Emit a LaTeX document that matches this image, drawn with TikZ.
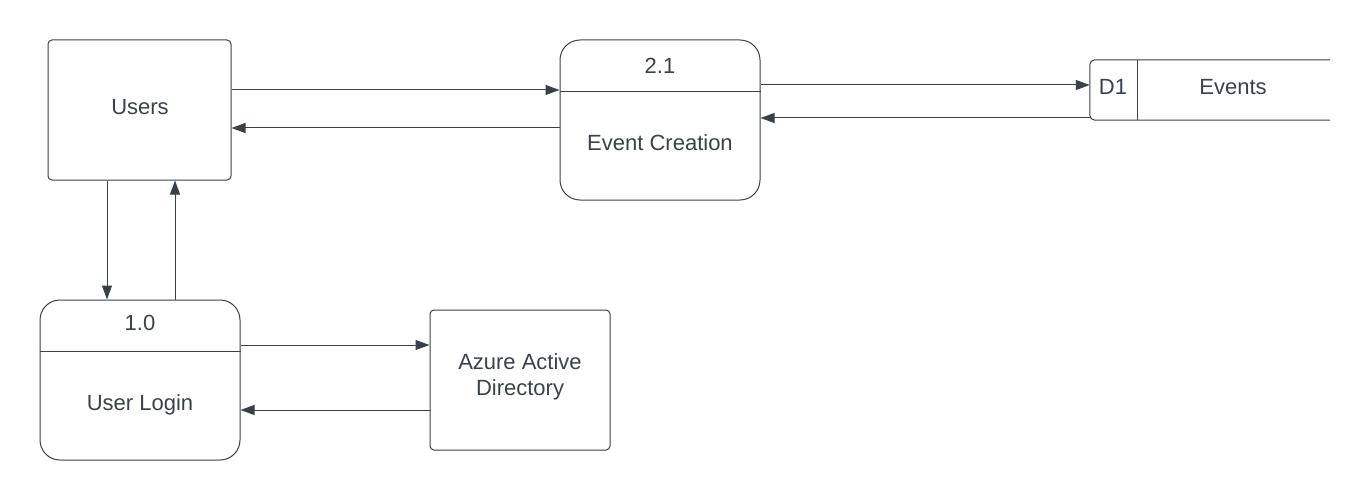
\documentclass[tikz,border=0pt]{standalone}
\usepackage{fontspec}
\setmainfont{Liberation Sans}
\usetikzlibrary{arrows.meta}
\definecolor{ink}{HTML}{3A414A}
\tikzset{
  every node/.style={text=ink, font=\fontsize{22}{26}\selectfont},
  entity/.style={draw=ink, line width=1pt, rounded corners=4pt, inner sep=0pt},
  process/.style={draw=ink, line width=1pt, rounded corners=20pt, inner sep=0pt,
    minimum width=200pt, minimum height=160pt},
  flow/.style={draw=ink, line width=1pt, -{Triangle[length=14pt, width=10pt]}}
}
\begin{document}
\begin{tikzpicture}[x=1pt, y=-1pt]
  \useasboundingbox (0,0) rectangle (1370,500);
  \draw
    (139.5,110) node[entity, minimum width=183pt, minimum height=140pt] (users){}
    (660,120) node[process] (ec){}
    (140,380) node[process] (login){}
    (520,380) node[entity, minimum width=180pt, minimum height=140pt] (aad){}
    (1210,90) node[minimum width=240pt, minimum height=60pt, inner sep=0pt] (store){};
  \node at (140,107) {Users};
  \node at (660,66) {2.1};
  \node at (660,143) {Event Creation};
  \node at (140,323) {1.0};
  \node at (140,405) {User Login};
  \node[align=center] at (520,377) {Azure Active\\Directory};
  \node at (1113,87) (d1){D1};
  \node at (1233,87) (events){Events};
  \draw[ink, line width=1pt] ([yshift=-52pt]ec.north west) -- ([yshift=-52pt]ec.north east);
  \draw[ink, line width=1pt] ([yshift=-52pt]login.north west) -- ([yshift=-52pt]login.north east);
  \draw[ink, line width=1pt, rounded corners=5pt]
    (store.north east) -- (store.north west) -- (store.south west) -- (store.south east);
  \draw[ink, line width=1pt] ([xshift=48pt]store.north west) -- ([xshift=48pt]store.south west);
  \begin{scope}[flow]
    \draw ([yshift=20pt]users.east) to ([yshift=20pt]users.east -| ec.west);
    \draw ([yshift=-8pt]ec.west) to ([yshift=-8pt]ec.west -| users.east);
    \draw ([yshift=35pt]ec.east) to ([yshift=35pt]ec.east -| store.west);
    \draw ([yshift=-28pt]store.west) to ([yshift=-28pt]store.west -| ec.east);
    \draw ([xshift=-32.5pt]users.south) to ([xshift=-32.5pt]users.south |- login.north);
    \draw ([xshift=35pt]login.north) to ([xshift=35pt]login.north |- users.south);
    \draw ([yshift=35pt]login.east) to ([yshift=35pt]login.east -| aad.west);
    \draw ([yshift=-30pt]aad.west) to ([yshift=-30pt]aad.west -| login.east);
  \end{scope}
\end{tikzpicture}
\end{document}
